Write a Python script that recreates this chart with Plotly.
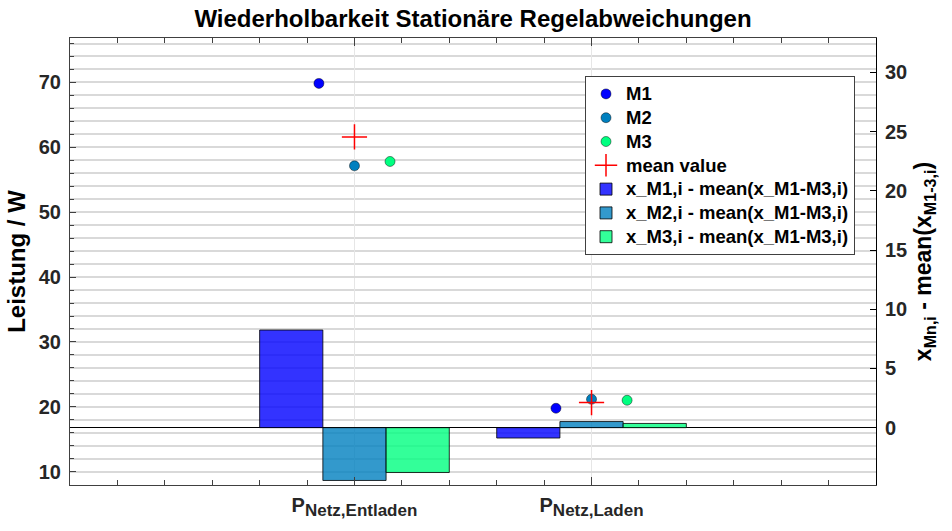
import numpy as np
import plotly.graph_objects as go

# ---------------- data ----------------
categories = ["P<sub><span style='font-size:17px'>Netz,Entladen</span></sub>",
              "P<sub><span style='font-size:17px'>Netz,Laden</span></sub>"]
cat_pos = [1, 2]
m1_values = [69.85, 19.78]
m2_values = [57.15, 21.17]
m3_values = [57.82, 21.01]
series_names = ["M1", "M2", "M3"]
mean_name = "mean value"
bar_names = ["x_M1,i - mean(x_M1-M3,i)",
             "x_M2,i - mean(x_M1-M3,i)",
             "x_M3,i - mean(x_M1-M3,i)"]
left_ticks = [10, 20, 30, 40, 50, 60, 70]
right_ticks = [0, 5, 10, 15, 20, 25, 30]

# ---------------- derived ----------------
series = [np.array(m1_values), np.array(m2_values), np.array(m3_values)]
mean_values = (series[0] + series[1] + series[2]) / 3.0
deviations = [s - mean_values for s in series]

# ---------------- styles ----------------
marker_colors = ["#0000ff", "#0080bf", "#00ff80"]
bar_colors = ["rgba(0,0,255,0.8)", "rgba(0,128,191,0.8)", "rgba(0,255,128,0.8)"]
point_offsets = [-0.15, 0.0, 0.15]
bar_width = 0.8 / 3
bar_offsets = [-0.4, -0.4 + bar_width, -0.4 + 2 * bar_width]
FONT = "Liberation Sans, Arial, Helvetica, sans-serif"
AX = "#404040"
TXT = "#262626"
GRID = "#d9d9d9"


def leg(label):
    return "<span style='font-size:18.5px'>" + label + "</span>"


fig = go.Figure()
pos = np.array(cat_pos, dtype=float)

for name, vals, col, off in zip(series_names, series, marker_colors, point_offsets):
    fig.add_trace(go.Scatter(
        x=pos + off, y=vals, mode="markers", name=leg(name), yaxis="y",
        marker=dict(size=10, color=col, line=dict(color="rgba(0,0,0,0.55)", width=0.8)),
    ))

fig.add_trace(go.Scatter(
    x=pos, y=mean_values, mode="markers", name=leg(mean_name), yaxis="y",
    marker=dict(symbol="cross-thin", size=18, color="red", line=dict(color="red", width=1.5)),
))

for name, dev, col, off in zip(bar_names, deviations, bar_colors, bar_offsets):
    fig.add_trace(go.Bar(
        x=pos, y=dev, name=leg(name), yaxis="y2", offset=off, width=bar_width,
        marker=dict(color=col, line=dict(color="rgba(0,0,0,0.8)", width=1)),
    ))

fig.update_layout(
    width=952, height=531,
    margin=dict(l=70, r=76, t=38, b=46, autoexpand=False),
    paper_bgcolor="white", plot_bgcolor="white",
    font=dict(family=FONT, color=TXT),
    barmode="overlay",
    title=dict(text="Wiederholbarkeit Stationäre Regelabweichungen",
               font=dict(family=FONT, size=24, color="#000000", weight="bold"),
               x=0.5, xref="paper", xanchor="center",
               y=1 - 19 / 531, yref="container", yanchor="middle", automargin=False),
    xaxis=dict(
        range=[-0.2, 3.2], tickmode="array", tickvals=cat_pos, ticktext=categories,
        ticks="inside", ticklen=8, tickcolor=AX, tickwidth=1,
        showline=True, linecolor=AX, linewidth=1, mirror="ticks",
        showgrid=True, gridcolor="#e6e6e6", gridwidth=1, zeroline=False,
        tickfont=dict(family=FONT, size=20, color=TXT, weight="bold"),
        ticklabelstandoff=2, automargin=False,
        minor=dict(tickmode="linear", tick0=0, dtick=0.2, ticks="inside",
                   ticklen=5, tickcolor=AX, showgrid=False),
    ),
    yaxis=dict(
        range=[7.95, 76.85], tickmode="array", tickvals=left_ticks,
        ticks="inside", ticklen=6, tickcolor=AX,
        showline=True, linecolor=AX, linewidth=1, mirror=True,
        showgrid=True, gridcolor=GRID, gridwidth=1.5, zeroline=False,
        tickfont=dict(family=FONT, size=20, color=TXT, weight="bold"),
        ticklabelstandoff=4, automargin=False,
        title=dict(text="Leistung / W", standoff=6,
                   font=dict(family=FONT, size=24, color="#000000", weight="bold")),
        minor=dict(tickmode="linear", tick0=0, dtick=2, ticks="inside", ticklen=4,
                   tickcolor=AX, showgrid=True, gridcolor=GRID, gridwidth=1.5),
    ),
    yaxis2=dict(
        overlaying="y", side="right", range=[-4.84, 32.9],
        tickmode="array", tickvals=right_ticks,
        ticks="inside", ticklen=6, tickcolor="#000000",
        showline=True, linecolor="#000000", linewidth=1,
        showgrid=False, zeroline=True, zerolinecolor="#000000", zerolinewidth=1,
        tickfont=dict(family=FONT, size=20, color=TXT, weight="bold"),
        ticklabelstandoff=4, automargin=False,
        title=dict(text="x<sub>Mn,i</sub> - mean(x<sub>M1-3,i</sub>)", standoff=8,
                   font=dict(family=FONT, size=23, color="#000000", weight="bold")),
    ),
    legend=dict(
        x=(855 - 70) / 806, xanchor="right", y=(485 - 76) / 447, yanchor="top",
        bgcolor="white", bordercolor=AX, borderwidth=1,
        font=dict(family=FONT, size=16, color="#000000", weight="bold"),
        traceorder="normal", tracegroupgap=0,
    ),
    showlegend=True,
)

fig.write_html("out.html", config={"displayModeBar": False},
               post_script="document.body.style.margin='0';document.body.style.padding='0';")
